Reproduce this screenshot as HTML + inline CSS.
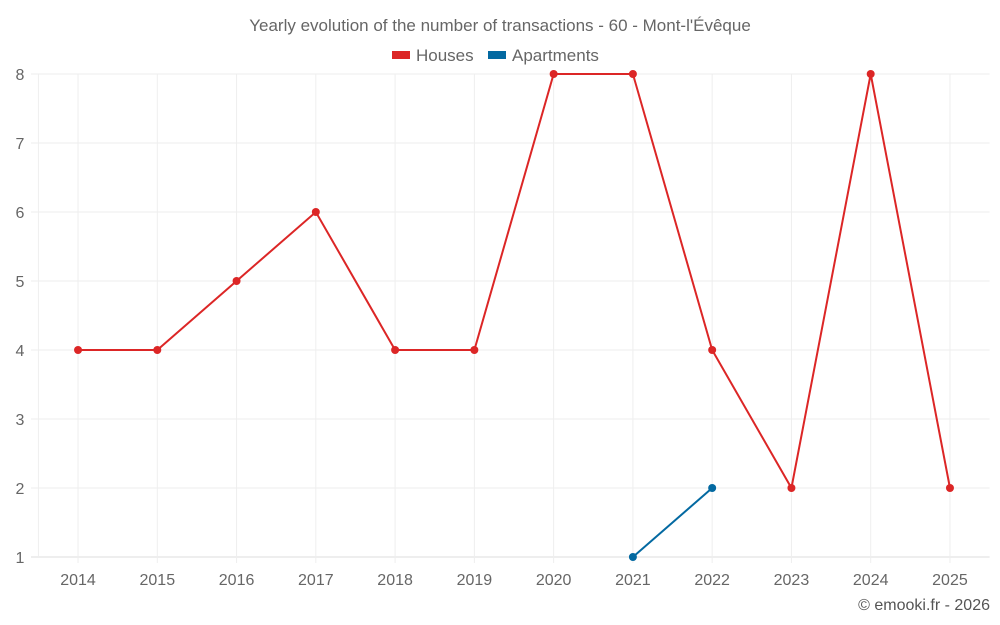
<!DOCTYPE html>
<html><head><meta charset="utf-8"><style>
html,body{margin:0;padding:0;background:#fff;width:1000px;height:625px;overflow:hidden}
svg{display:block;font-family:"Liberation Sans",sans-serif}
</style></head><body>
<svg id="chart" width="1000" height="625">
<text x="500" y="31" text-anchor="middle" font-size="17" fill="#666">Yearly evolution of the number of transactions - 60 - Mont-l'Évêque</text>
<g>
<g><rect x="392" y="51" width="18" height="8" fill="#dc2626"/><text x="416" y="61" font-size="17" fill="#666">Houses</text></g>
<g><rect x="488" y="51" width="18" height="8" fill="#0369a1"/><text x="512" y="61" font-size="17" fill="#666">Apartments</text></g>
</g>
<g id="grid"></g>
<g id="axes"></g>
<g id="series"></g>
<text x="990" y="610" text-anchor="end" font-size="16" fill="#555">© emooki.fr - 2026</text>
</svg>
<script>
const years = ["2014","2015","2016","2017","2018","2019","2020","2021","2022","2023","2024","2025"];
const houses = [4,4,5,6,4,4,8,8,4,2,8,2];
const apartments = [null,null,null,null,null,null,null,1,2,null,null,null];
const yTicks = [1,2,3,4,5,6,7,8];
const NS="http://www.w3.org/2000/svg";
const pL=38.4,pR=989.6,pT=74,pB=557,yMin=1,yMax=8;
const step=(pR-pL)/years.length;
const x=i=>pL+step*(i+0.5);
const y=v=>pB-(v-yMin)/(yMax-yMin)*(pB-pT);
function mk(t,a,p){const e=document.createElementNS(NS,t);for(const k in a)e.setAttribute(k,a[k]);p.appendChild(e);return e;}
const grid=document.getElementById('grid'),axes=document.getElementById('axes'),series=document.getElementById('series');
yTicks.forEach(v=>{
  const l=mk('line',{x1:31,x2:pR,y1:y(v),y2:y(v),stroke:v===yMin?'#ddd':'#eee','stroke-width':1},grid);
  
  
  const t=mk('text',{x:20,y:y(v)+6,'text-anchor':'middle','font-size':16,fill:'#666'},axes);
  t.textContent=v;
  
  
});
mk('line',{x1:pL,x2:pL,y1:pT,y2:pB,stroke:'#eee'},grid);
years.forEach((yr,i)=>{
  const l=mk('line',{x1:x(i),x2:x(i),y1:pT,y2:pB+6,stroke:'#eee'},grid);
  
  
  const t=mk('text',{x:x(i),y:585,'text-anchor':'middle','font-size':16,fill:'#666'},axes);
  t.textContent=yr;
  
  
});
function draw(vals,color,name){
  let d='',pen=false;
  vals.forEach((v,i)=>{if(v==null){pen=false;return;}d+=(pen?'L':'M')+x(i)+','+y(v);pen=true;});
  const p=mk('path',{d:d,fill:'none',stroke:color,'stroke-width':2},series);
  
  
  vals.forEach((v,i)=>{if(v==null)return;
    const c=mk('circle',{cx:x(i),cy:y(v),r:4,fill:color},series);
    
    
  });
}
draw(houses,'#dc2626','houses');
draw(apartments,'#0369a1','apartments');
</script>
</body></html>
